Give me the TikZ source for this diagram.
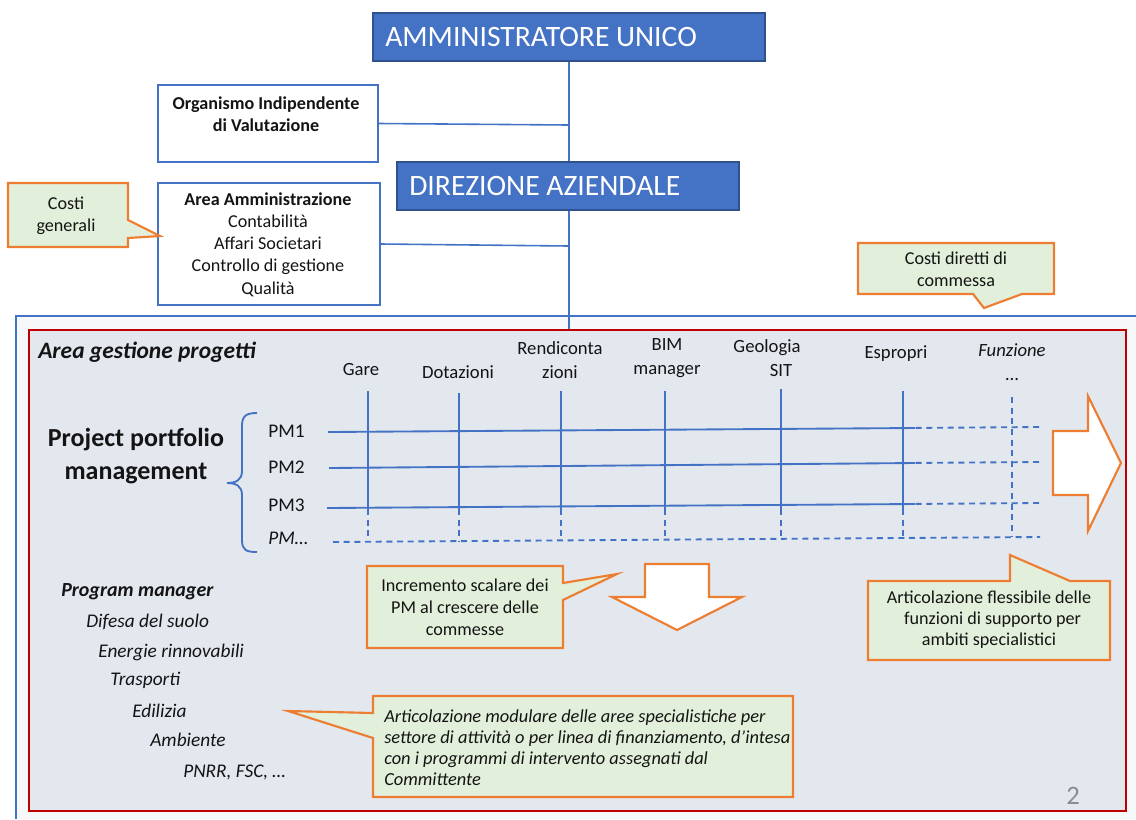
\documentclass[tikz,border=0pt]{standalone}
\usepackage{fontspec}
\setmainfont{Carlito}
\usetikzlibrary{fit}
\definecolor{bl}{HTML}{4472C4}
\definecolor{bldark}{HTML}{2F528F}
\definecolor{org}{HTML}{ED7D31}
\definecolor{grn}{HTML}{E2EFDA}
\definecolor{rd}{HTML}{C00000}
\definecolor{areafill}{HTML}{E3E8EF}
\definecolor{outerfill}{HTML}{F7F8FA}
\definecolor{pgnum}{HTML}{8C8C8C}
\definecolor{txt}{HTML}{141414}
\begin{document}
\begin{tikzpicture}[x=0.75pt,y=-0.75pt,
  box/.style={draw=bl, line width=1.5pt, fill=white, inner sep=0pt},
  hdr/.style={draw=bldark, line width=1.5pt, fill=bl, inner sep=0pt},
  conn/.style={draw=bl, line width=1.2pt},
  gridline/.style={draw=bl, line width=1.4pt},
  griddash/.style={draw=bl, line width=1.4pt, dash pattern=on 4.5pt off 3.5pt},
  callout/.style={draw=org, line width=1.6pt, fill=grn, line join=miter},
  blockarrow/.style={draw=org, line width=1.6pt, fill=white, line join=miter},
  hdrtext/.style={text=white, font=\fontsize{22.2}{26}\selectfont, inner sep=0pt, anchor=west},
  small/.style={text=txt, font=\fontsize{13.6}{16.6}\selectfont, align=center, inner sep=0pt},
  colhead/.style={text=txt, font=\fontsize{14}{18}\selectfont, align=center, inner sep=0pt},
  pmlabel/.style={text=txt, font=\fontsize{14.5}{18}\selectfont, inner sep=0pt, anchor=west},
  proglist/.style={text=txt, font=\fontsize{14.5}{18}\selectfont\itshape, inner sep=0pt, anchor=west}
]
\useasboundingbox (0,0) rectangle (1136,819);

% outer light area
\fill[outerfill] (16,316) rectangle (1136,819);
\draw[bl, line width=1.3pt] (1136,316) -- (16,316) -- (16,819);

% red project area
\node[draw=rd, line width=1.6pt, fill=areafill, inner sep=0pt, fit={(29,330) (1126,811)}] (area) {};

% header boxes
\node[hdr, fit={(373,13) (765,61)}] (au) {};
\node[hdrtext] (autext) at (385,37) {AMMINISTRATORE UNICO};
\node[hdr, fit={(397,162) (739,210)}] (da) {};
\node[hdrtext] (datext) at (409,186) {DIREZIONE AZIENDALE};

% side boxes
\node[box, fit={(158,85) (378,162)}] (oiv) {};
\node[small, font=\fontsize{13.6}{16.6}\selectfont\bfseries] (oivtext) at (266,114) {Organismo Indipendente\\di Valutazione};
\node[box, fit={(158,183) (380,305)}] (aa) {};
\node[small, font=\fontsize{13.6}{16.7}\selectfont] (aatext) at (268,244.5) {\textbf{Area Amministrazione}\\Contabilità\\Affari Societari\\Controllo di gestione\\Qualità};

% connectors
\coordinate (j1) at (569,125);
\coordinate (j2) at (569,246);
\draw[conn] (au.south) -- (au.south |- da.north);
\draw[conn] (au.south |- da.south) -- (au.south |- area.north);
\draw[conn] (oiv.east) -- (j1);
\draw[conn] (aa.east) -- (j2);

% callouts
\draw[callout] (8,183) -- (128,183) -- (128,220) -- (160,236) -- (128,238) -- (128,247) -- (8,247) -- cycle;
\node[small] (cg) at (66,216) {Costi\\generali};

\draw[callout] (858,243) -- (1054,243) -- (1054,294) -- (1022,294) -- (984,308) -- (973,294) -- (858,294) -- cycle;
\node[small] (cd) at (956,269) {Costi diretti di\\commessa};

% area title
\node[text=txt, font=\fontsize{17.6}{20}\selectfont\bfseries\itshape, inner sep=0pt, anchor=west] (agp) at (38,352) {Area gestione progetti};

% column headers
\node[colhead] (h1) at (361,370) {Gare};
\node[colhead] (h2) at (458,372) {Dotazioni};
\node[colhead] (h3) at (560,360) {Rendiconta\\zioni};
\node[colhead] (h4) at (667,358) {BIM\\manager};
\node[colhead] (h5) at (767,358) {Geologia\\\hspace*{1.5em}SIT};
\node[colhead] (h6) at (896,354) {Espropri};
\node[colhead] (h7) at (1012,362) {\textit{Funzione}\\…};

% vertical lines
\foreach \x/\t/\b in {368/391/542, 459/393/542, 561/391/541, 665/391/540, 781/389/538, 903/391/537}{
  \draw[gridline] (\x,\t) -- (\x,509);
  \draw[griddash] (\x,509) -- (\x,\b);
}
\draw[griddash] (1012,397) -- (1012,537);

% horizontal lines
\draw[gridline] (328,432) -- (915,428);
\draw[griddash] (905,428) -- (1040,427);
\draw[gridline] (329,468) -- (915,463);
\draw[griddash] (905,463) -- (1040,462);
\draw[gridline] (327,508) -- (915,504);
\draw[griddash] (905,504) -- (1040,503);
\draw[griddash] (333,542) -- (1040,537);

% PM labels
\node[pmlabel] (pm1) at (268,431) {PM1};
\node[pmlabel] (pm2) at (268,467) {PM2};
\node[pmlabel] (pm3) at (268,505) {PM3};
\node[pmlabel] (pmx) at (268,538) {\textit{PM…}};

% brace
\draw[conn, line width=1.4pt] (257,413) .. controls (246,413) and (242,416) .. (242,426) -- (242,471)
  .. controls (242,480) and (236,483) .. (227,483)
  .. controls (236,483) and (242,486) .. (242,495) -- (242,540)
  .. controls (242,550) and (246,552) .. (257,552);

\node[text=txt, font=\fontsize{19.5}{24.75}\selectfont\bfseries, align=center, inner sep=0pt] (ppm) at (136,456) {Project portfolio\\management};

% block arrows
\draw[blockarrow] (1053,431) -- (1088,431) -- (1088,396) -- (1121,463) -- (1088,531) -- (1088,495) -- (1053,495) -- cycle;
\draw[blockarrow] (645,564) -- (709,564) -- (709,597) -- (742,597) -- (677,630) -- (612,597) -- (645,597) -- cycle;

% callouts inside area
\draw[callout] (367,566) -- (563,566) -- (563,583) -- (617,574) -- (563,600) -- (563,648) -- (367,648) -- cycle;
\node[small] (inc) at (465,607) {Incremento scalare dei\\PM al crescere delle\\commesse};

\draw[callout] (868,581) -- (1010,581) -- (1010,555) -- (1070,581) -- (1110,581) -- (1110,660) -- (868,660) -- cycle;
\node[small, font=\fontsize{13.6}{15.8}\selectfont] (afl) at (989,620) {Articolazione flessibile delle\\\hspace*{0.4em}funzioni di supporto per\\ambiti specialistici};

\draw[callout] (373,696) -- (793,696) -- (793,797) -- (373,797) -- (373,738) -- (288,711) -- (373,713) -- cycle;
\node[text=txt, font=\fontsize{13.8}{15.75}\selectfont\itshape, align=left, inner sep=0pt, anchor=west] (amod) at (384,747.5) {Articolazione modulare delle aree specialistiche per\\settore di attività o per linea di finanziamento, d’intesa\\con i programmi di intervento assegnati dal\\Committente};

% program manager list
\node[proglist, font=\fontsize{15}{18}\selectfont\bfseries\itshape] (pgm) at (61,592) {Program manager};
\node[proglist] (p1) at (86,622) {Difesa del suolo};
\node[proglist] (p2) at (98,652) {Energie rinnovabili};
\node[proglist] (p3) at (110,680) {Trasporti};
\node[proglist] (p4) at (132,711) {Edilizia};
\node[proglist] (p5) at (150,740) {Ambiente};
\node[proglist] (p6) at (183,772) {PNRR, FSC, …};

% page number
\node[text=pgnum, font=\fontsize{20}{24}\selectfont, inner sep=0pt] (pg) at (1073,796) {2};
\end{tikzpicture}
\end{document}
